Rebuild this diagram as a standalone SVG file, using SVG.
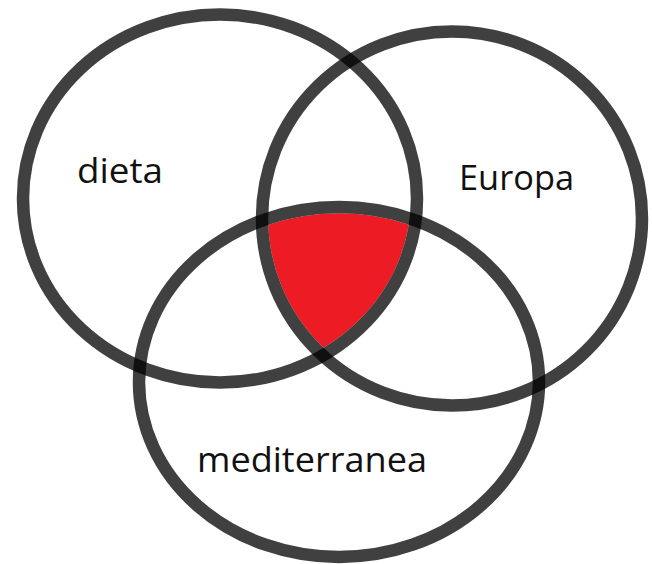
<svg xmlns="http://www.w3.org/2000/svg" width="652" height="564" viewBox="0 0 652 564">
<style>
.ring{fill:none;stroke:#000;stroke-opacity:0.75;stroke-width:12.5}
.under{fill:none;stroke:#fff;stroke-width:12.5}
.lbl{font-family:"Open Sans","Liberation Sans",sans-serif;font-size:34px;fill:#111}
</style>
<defs>
<ellipse id="e1" cx="220" cy="198.5" rx="197" ry="184"/>
<ellipse id="e2" cx="452" cy="218.5" rx="190" ry="187"/>
<ellipse id="e3" cx="339" cy="382" rx="200" ry="175"/>
<clipPath id="c1"><ellipse cx="220" cy="198.5" rx="197" ry="184"/></clipPath>
<clipPath id="c2" clip-path="url(#c1)"><ellipse cx="452" cy="218.5" rx="190" ry="187"/></clipPath>
</defs>
<rect width="652" height="564" fill="#fff"/>
<g id="intersection">
<ellipse cx="339" cy="382" rx="200" ry="175" fill="#ED1C24" clip-path="url(#c2)"/>
<use href="#e1" class="under"/>
<use href="#e2" class="under"/>
<use href="#e3" class="under"/>
</g>
<g id="dieta">
<use href="#e1" class="ring"/>
<text class="lbl" x="77" y="183" textLength="86" lengthAdjust="spacingAndGlyphs">dieta</text>
</g>
<g id="europa">
<use href="#e2" class="ring"/>
<text class="lbl" x="459" y="190" textLength="115" lengthAdjust="spacingAndGlyphs">Europa</text>
</g>
<g id="mediterranea">
<use href="#e3" class="ring"/>
<text class="lbl" x="197" y="472" textLength="230" lengthAdjust="spacingAndGlyphs">mediterranea</text>
</g>
<g id="connectors"></g>
</svg>
